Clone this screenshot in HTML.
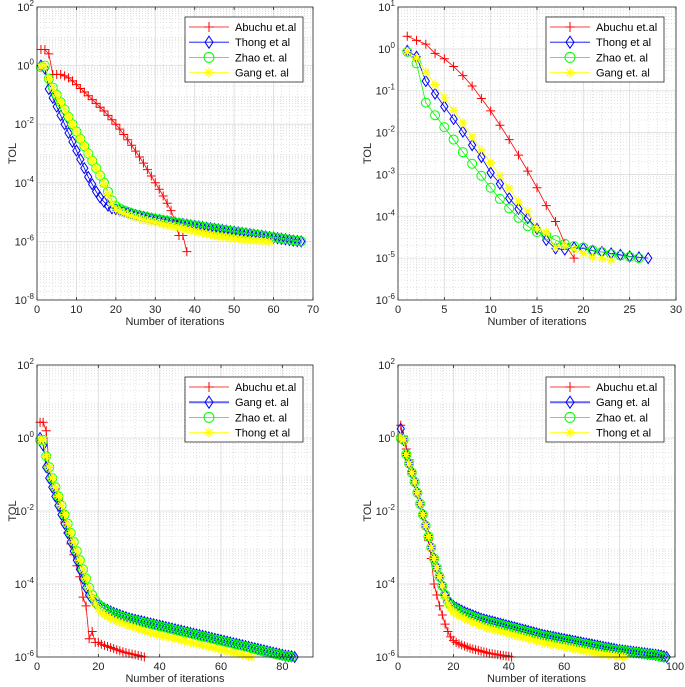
<!DOCTYPE html>
<html><head><meta charset="utf-8"><style>
html,body{margin:0;padding:0;background:#fff;}
svg{display:block;font-family:"Liberation Sans",Arial,sans-serif;}
</style></head><body>
<svg id="fig" width="685" height="687" viewBox="0 0 685 687" xmlns="http://www.w3.org/2000/svg"></svg>
<script>
// ===== Panel A (top-left) data: log10(TOL) =====
const aAbuchu = [0.55,0.55,0.4,-0.3,-0.3,-0.3,-0.35,-0.42,-0.52,-0.65,-0.78,-0.9,-1.03,-1.16,-1.29,-1.42,-1.55,-1.7,-1.85,-2.0,-2.17,-2.35,-2.53,-2.72,-2.92,-3.12,-3.33,-3.55,-3.77,-4.0,-4.22,-4.45,-4.7,-4.95,-5.3,-5.8,-5.8,-6.35];
const aThong = [0,-0.1,-0.8,-1.1,-1.4,-1.7,-2.0,-2.3,-2.6,-2.9,-3.2,-3.5,-3.8,-4.05,-4.3,-4.5,-4.65,-4.78,-4.87,-4.9,-4.94,-4.98,-5.02,-5.06,-5.1,-5.13,-5.16,-5.19,-5.22,-5.25,-5.27,-5.3,-5.32,-5.34,-5.37,-5.39,-5.41,-5.43,-5.45,-5.47,-5.49,-5.51,-5.53,-5.55,-5.57,-5.59,-5.61,-5.63,-5.65,-5.67,-5.69,-5.71,-5.73,-5.75,-5.77,-5.79,-5.81,-5.83,-5.85,-5.87,-5.89,-5.91,-5.93,-5.95,-5.97,-5.99,-6.0];
const aZhao = [-0.05,0,-0.45,-0.75,-1.0,-1.25,-1.5,-1.75,-2.0,-2.25,-2.5,-2.75,-3.0,-3.25,-3.5,-3.75,-4.0,-4.3,-4.6,-4.8,-4.88,-4.94,-4.99,-5.04,-5.08,-5.11,-5.14,-5.17,-5.2,-5.23,-5.25,-5.28,-5.3,-5.33,-5.35,-5.37,-5.4,-5.42,-5.44,-5.46,-5.48,-5.5,-5.52,-5.54,-5.56,-5.58,-5.6,-5.62,-5.64,-5.66,-5.68,-5.7,-5.72,-5.74,-5.76,-5.78,-5.8,-5.82,-5.84,-5.86,-5.88,-5.9,-5.92,-5.94,-5.96,-5.98,-6.0];
const aGang = [-0.05,0,-0.45,-0.75,-1.0,-1.25,-1.5,-1.75,-2.0,-2.25,-2.5,-2.75,-3.0,-3.25,-3.5,-3.75,-4.05,-4.4,-4.7,-4.9,-4.98,-5.04,-5.09,-5.14,-5.18,-5.22,-5.26,-5.29,-5.32,-5.35,-5.38,-5.41,-5.44,-5.47,-5.5,-5.53,-5.56,-5.59,-5.62,-5.65,-5.68,-5.71,-5.74,-5.77,-5.8,-5.82,-5.84,-5.86,-5.88,-5.9,-5.92,-5.94,-5.95,-5.96,-5.97,-5.98,-5.99,-6.0,-6.02];
// ===== Panel B (top-right) data: TOL =====
const bAbuchu = [2,1.6,1.3,0.78,0.58,0.38,0.23,0.13,0.065,0.033,0.015,0.0068,0.0029,0.0012,0.00048,0.00018,7.5e-5,2.2e-5,1e-5];
const bThong = [0.9,0.65,0.17,0.085,0.042,0.021,0.0105,0.005,0.0026,0.0011,0.0006,0.00027,0.00015,9e-5,5e-5,2.7e-5,1.7e-5,1.6e-5,1.8e-5,1.7e-5,1.5e-5,1.4e-5,1.3e-5,1.2e-5,1.1e-5,1.05e-5,1e-5];
const bZhao = [0.85,0.45,0.052,0.026,0.0135,0.0068,0.0034,0.0018,0.00093,0.00048,0.00026,0.000155,9.2e-5,5.8e-5,4.2e-5,3.5e-5,2.7e-5,2.2e-5,1.95e-5,1.8e-5,1.55e-5,1.4e-5,1.25e-5,1.15e-5,1.08e-5,1e-5];
const bGang = [0.85,0.6,0.28,0.14,0.068,0.034,0.017,0.0078,0.0038,0.0019,0.00094,0.00047,0.00022,0.00013,5e-5,4.2e-5,1.8e-5,2e-5,1.6e-5,1.3e-5,1.05e-5,1e-5,9e-6];
// ===== Panel C (bottom-left) data: log10(TOL) =====
const cAbuchu = [0.43,0.43,0.2,-0.8,-1.1,-1.4,-1.7,-2.0,-2.3,-2.6,-2.9,-3.2,-3.5,-3.8,-4.36,-4.6,-5.5,-5.3,-5.6,-5.6,-5.65,-5.68,-5.71,-5.74,-5.77,-5.8,-5.83,-5.86,-5.88,-5.9,-5.92,-5.94,-5.96,-5.98,-6.0];
const cGang = [0,-0.2,-0.8,-1.1,-1.35,-1.6,-1.85,-2.1,-2.35,-2.6,-2.85,-3.1,-3.35,-3.6,-3.85,-4.1,-4.3,-4.42,-4.52,-4.58,-4.62,-4.67,-4.71,-4.75,-4.79,-4.82,-4.85,-4.88,-4.91,-4.94,-4.96,-4.98,-5.0,-5.02,-5.04,-5.06,-5.08,-5.1,-5.12,-5.14,-5.16,-5.18,-5.2,-5.22,-5.24,-5.26,-5.28,-5.3,-5.32,-5.34,-5.36,-5.38,-5.4,-5.42,-5.44,-5.46,-5.48,-5.5,-5.52,-5.54,-5.56,-5.58,-5.6,-5.62,-5.64,-5.66,-5.68,-5.7,-5.72,-5.74,-5.76,-5.78,-5.8,-5.82,-5.84,-5.86,-5.88,-5.9,-5.92,-5.94,-5.96,-5.97,-5.98,-6.0];
const cZhao = [-0.05,-0.05,-0.5,-0.8,-1.1,-1.35,-1.6,-1.85,-2.1,-2.35,-2.6,-2.85,-3.1,-3.35,-3.6,-3.85,-4.1,-4.3,-4.45,-4.55,-4.62,-4.68,-4.73,-4.77,-4.81,-4.84,-4.87,-4.9,-4.93,-4.96,-4.98,-5.0,-5.02,-5.04,-5.06,-5.08,-5.1,-5.12,-5.14,-5.16,-5.18,-5.2,-5.22,-5.24,-5.26,-5.28,-5.3,-5.32,-5.34,-5.36,-5.38,-5.4,-5.42,-5.44,-5.46,-5.48,-5.5,-5.52,-5.54,-5.56,-5.58,-5.6,-5.62,-5.64,-5.66,-5.68,-5.7,-5.72,-5.74,-5.76,-5.78,-5.8,-5.82,-5.84,-5.86,-5.88,-5.9,-5.92,-5.94,-5.96,-5.97,-5.98,-6.0];
const cThong = [-0.05,-0.05,-0.5,-0.8,-1.1,-1.35,-1.6,-1.85,-2.1,-2.35,-2.6,-2.85,-3.1,-3.35,-3.6,-3.85,-4.1,-4.35,-4.55,-4.7,-4.78,-4.84,-4.89,-4.94,-4.98,-5.02,-5.05,-5.08,-5.11,-5.14,-5.17,-5.2,-5.23,-5.26,-5.29,-5.32,-5.34,-5.36,-5.38,-5.4,-5.42,-5.44,-5.46,-5.48,-5.5,-5.52,-5.54,-5.56,-5.58,-5.6,-5.62,-5.64,-5.66,-5.68,-5.7,-5.72,-5.74,-5.76,-5.78,-5.8,-5.82,-5.84,-5.86,-5.88,-5.9,-5.92,-5.94,-5.96,-5.98,-6.0];
// ===== Panel D (bottom-right) data: log10(TOL) =====
const dAbuchu = [0.35,0.05,-0.3,-0.6,-0.9,-1.2,-1.5,-1.8,-2.1,-2.4,-2.8,-3.3,-4.0,-4.3,-4.6,-4.85,-5.1,-5.3,-5.45,-5.55,-5.6,-5.64,-5.67,-5.7,-5.73,-5.76,-5.78,-5.8,-5.82,-5.84,-5.86,-5.88,-5.9,-5.91,-5.92,-5.94,-5.95,-5.96,-5.97,-5.98,-6.0];
const dGang = [0.25,-0.05,-0.45,-0.7,-0.95,-1.2,-1.5,-1.8,-2.1,-2.4,-2.7,-3.0,-3.3,-3.55,-3.8,-4.05,-4.3,-4.45,-4.55,-4.6,-4.65,-4.69,-4.73,-4.77,-4.8,-4.83,-4.86,-4.89,-4.92,-4.95,-4.97,-4.99,-5.01,-5.03,-5.05,-5.07,-5.09,-5.11,-5.13,-5.15,-5.17,-5.19,-5.21,-5.23,-5.25,-5.27,-5.29,-5.31,-5.33,-5.35,-5.37,-5.39,-5.41,-5.42,-5.44,-5.45,-5.47,-5.48,-5.5,-5.51,-5.53,-5.54,-5.56,-5.57,-5.59,-5.6,-5.62,-5.63,-5.65,-5.66,-5.68,-5.69,-5.71,-5.72,-5.74,-5.75,-5.77,-5.78,-5.8,-5.81,-5.82,-5.83,-5.84,-5.85,-5.86,-5.87,-5.88,-5.89,-5.9,-5.91,-5.92,-5.93,-5.94,-5.95,-5.96,-5.98,-6.0];
const dZhao = [0,-0.05,-0.45,-0.7,-0.95,-1.2,-1.5,-1.8,-2.1,-2.4,-2.7,-3.0,-3.3,-3.55,-3.8,-4.05,-4.3,-4.47,-4.58,-4.64,-4.69,-4.73,-4.77,-4.81,-4.84,-4.87,-4.9,-4.93,-4.96,-4.98,-5.0,-5.02,-5.04,-5.06,-5.08,-5.1,-5.12,-5.14,-5.16,-5.18,-5.2,-5.22,-5.24,-5.26,-5.28,-5.3,-5.32,-5.34,-5.36,-5.38,-5.4,-5.42,-5.43,-5.45,-5.46,-5.48,-5.49,-5.51,-5.52,-5.54,-5.55,-5.57,-5.58,-5.6,-5.61,-5.63,-5.64,-5.66,-5.67,-5.69,-5.7,-5.72,-5.73,-5.75,-5.76,-5.78,-5.79,-5.8,-5.81,-5.82,-5.83,-5.84,-5.85,-5.86,-5.87,-5.88,-5.89,-5.9,-5.91,-5.92,-5.93,-5.94,-5.95,-5.97,-6.0,-6.01];
const dThong = [0,-0.05,-0.45,-0.7,-0.95,-1.2,-1.5,-1.8,-2.1,-2.4,-2.7,-3.0,-3.3,-3.55,-3.8,-4.05,-4.35,-4.55,-4.68,-4.76,-4.82,-4.87,-4.91,-4.95,-4.99,-5.02,-5.05,-5.08,-5.11,-5.14,-5.17,-5.2,-5.22,-5.24,-5.26,-5.28,-5.3,-5.32,-5.34,-5.36,-5.38,-5.4,-5.42,-5.44,-5.46,-5.48,-5.5,-5.52,-5.54,-5.56,-5.58,-5.6,-5.62,-5.63,-5.65,-5.66,-5.68,-5.69,-5.71,-5.72,-5.74,-5.75,-5.77,-5.78,-5.8,-5.81,-5.83,-5.84,-5.86,-5.87,-5.89,-5.9,-5.91,-5.92,-5.93,-5.94,-5.95,-5.96,-5.97,-5.98,-5.99,-6.0];
// tick labels
const aXTicks = [0,10,20,30,40,50,60,70];
const bXTicks = [0,5,10,15,20,25,30];
const cXTicks = [0,20,40,60,80];
const dXTicks = [0,20,40,60,80,100];

const NS = "http://www.w3.org/2000/svg";
const svg = document.getElementById('fig');
function mk(tag, attrs, parent){const e=document.createElementNS(NS,tag);for(const k in attrs)e.setAttribute(k,attrs[k]);(parent||svg).appendChild(e);return e;}
const COL={red:'#ff0000',blue:'#0000ff',green:'#00ff00',yellow:'#ffff00'};

function marker(g,type,color,x,y,s){
  let e;
  if(type==='plus'){e=mk('path',{d:`M${x-s} ${y}H${x+s}M${x} ${y-s}V${y+s}`,stroke:color,'stroke-width':1,fill:'none'},g);}
  else if(type==='diamond'){e=mk('path',{d:`M${x} ${y-s*1.2}L${x+s*0.8} ${y}L${x} ${y+s*1.2}L${x-s*0.8} ${y}Z`,stroke:color,'stroke-width':1,fill:'none'},g);}
  else if(type==='circle'){e=mk('circle',{cx:x,cy:y,r:s,stroke:color,'stroke-width':1,fill:'none'},g);}
  else {const d=s*0.7;e=mk('path',{d:`M${x-s} ${y}H${x+s}M${x} ${y-s}V${y+s}M${x-d} ${y-d}L${x+d} ${y+d}M${x-d} ${y+d}L${x+d} ${y-d}`,stroke:color,'stroke-width':1.2,fill:'none'},g);}
  
  
}

function panel(p){
  const g=mk('g',{});
  
  
  const {L,R,T,B,xmin,xmax,ymin,ymax}=p;
  const sx=v=>L+(v-xmin)/(xmax-xmin)*(R-L);
  const sy=lv=>B-(lv-ymin)/(ymax-ymin)*(B-T);
  mk('rect',{x:L,y:T,width:R-L,height:B-T,fill:'#fff'},g);
  // minor y grid
  for(let e=ymin;e<ymax;e++){for(let m=2;m<=9;m++){const y=sy(e+Math.log10(m));mk('line',{x1:L,x2:R,y1:y,y2:y,stroke:'#d0d0d0','stroke-width':0.6,'stroke-dasharray':'1,2'},g);}}
  // minor x grid
  const step=p.xt[1]-p.xt[0], minor=step/ (step%5===0&&step>=10?5:5);
  for(let v=xmin;v<=xmax+1e-9;v+=minor){const x=sx(v);mk('line',{x1:x,x2:x,y1:T,y2:B,stroke:'#d0d0d0','stroke-width':0.6,'stroke-dasharray':'1,2'},g);}
  // major grid
  for(let e=ymin;e<=ymax;e+=p.ystep){const y=sy(e);mk('line',{x1:L,x2:R,y1:y,y2:y,stroke:'#dcdcdc','stroke-width':0.8},g);}
  p.xt.forEach(v=>{const x=sx(v);mk('line',{x1:x,x2:x,y1:T,y2:B,stroke:'#dcdcdc','stroke-width':0.8},g);});
  // series
  p.series.forEach(s=>{
    const sg=mk('g',{},g);
    
    
    const pts=s.data.map((v,i)=>[sx(i+1),sy(p.isLog?v:Math.log10(v))]);
    mk('polyline',{points:pts.map(q=>q.join(',')).join(' '),fill:'none',stroke:COL[s.color],'stroke-width':0.8},sg);
    pts.forEach(q=>marker(sg,s.marker,COL[s.color],q[0],q[1],p.ms));
  });
  // box
  mk('rect',{x:L,y:T,width:R-L,height:B-T,fill:'none',stroke:'#262626','stroke-width':0.8},g);
  // ticks & labels
  p.xt.forEach(v=>{const x=sx(v);
    mk('line',{x1:x,x2:x,y1:B,y2:B-3,stroke:'#262626','stroke-width':0.8},g);
    mk('line',{x1:x,x2:x,y1:T,y2:T+3,stroke:'#262626','stroke-width':0.8},g);
    const t=mk('text',{x:x,y:B+13,'font-size':11,'text-anchor':'middle',fill:'#262626'},g);t.textContent=v;
    
    
  });
  for(let e=ymin;e<=ymax;e+=p.ystep){const y=sy(e);
    const t=mk('text',{x:L-3,y:y+4,'font-size':11,'text-anchor':'end',fill:'#262626'},g);
    
    
    const b=mk('tspan',{},t);b.textContent='10';
    const sp=mk('tspan',{dy:-5,'font-size':8},t);sp.textContent=String(e).replace('-','-');
  }
  const xl=mk('text',{x:(L+R)/2,y:B+25,'font-size':11,'text-anchor':'middle',fill:'#262626'},g);xl.textContent='Number of iterations';
  
  
  const yx=p.ylx, yy=(T+B)/2;
  const yl=mk('text',{x:yx,y:yy,'font-size':11,'text-anchor':'middle',fill:'#262626',transform:`rotate(-90 ${yx} ${yy})`},g);yl.textContent='TOL';
  
  
  // legend
  const lg=mk('g',{},g);
  
  
  mk('rect',{x:p.lx,y:p.ly,width:118,height:65,fill:'#fff',stroke:'#262626','stroke-width':0.8},lg);
  p.series.forEach((s,i)=>{const y=p.ly+10+i*15.2;
    const eg=mk('g',{},lg);
    
    
    mk('line',{x1:p.lx+4,x2:p.lx+44,y1:y,y2:y,stroke:COL[s.color],'stroke-width':s.thick?2:0.8,'stroke-opacity':s.thick?0.6:1},eg);
    marker(eg,s.marker,COL[s.color],p.lx+24,y,5);
    const t=mk('text',{x:p.lx+50,y:y+4,'font-size':11,fill:'#000'},eg);t.textContent=s.label;
  });
}

panel({name:'chart-top-left',L:37,R:313,T:7,B:300,xmin:0,xmax:70,ymin:-8,ymax:2,ystep:2,isLog:true,xt:aXTicks,ylx:16,lx:185,ly:17,ms:4.5,
  series:[{name:'series-abuchu',label:'Abuchu et.al',data:aAbuchu,color:'red',marker:'plus'},
          {name:'series-gang',label:'Gang et. al',data:aGang,color:'yellow',marker:'star'},
          {name:'series-thong',label:'Thong et al',data:aThong,color:'blue',marker:'diamond'},
          {name:'series-zhao',label:'Zhao et. al',data:aZhao,color:'green',marker:'circle'}].sort((a,b)=>['Abuchu et.al','Thong et al','Zhao et. al','Gang et. al'].indexOf(a.label)-['Abuchu et.al','Thong et al','Zhao et. al','Gang et. al'].indexOf(b.label))});
panel({name:'chart-top-right',L:398,R:676,T:7,B:300,xmin:0,xmax:30,ymin:-6,ymax:1,ystep:1,isLog:false,xt:bXTicks,ylx:371,lx:546,ly:17,ms:4.5,
  series:[{name:'series-abuchu',label:'Abuchu et.al',data:bAbuchu,color:'red',marker:'plus'},
          {name:'series-thong',label:'Thong et al',data:bThong,color:'blue',marker:'diamond'},
          {name:'series-zhao',label:'Zhao et. al',data:bZhao,color:'green',marker:'circle'},
          {name:'series-gang',label:'Gang et. al',data:bGang,color:'yellow',marker:'star'}]});
panel({name:'chart-bottom-left',L:37,R:313,T:365,B:657,xmin:0,xmax:90,ymin:-6,ymax:2,ystep:2,isLog:true,xt:cXTicks,ylx:16,lx:185,ly:377,ms:4.5,
  series:[{name:'series-abuchu',label:'Abuchu et.al',data:cAbuchu,color:'red',marker:'plus'},
          {name:'series-gang',label:'Gang et. al',data:cGang,color:'blue',marker:'diamond',thick:true},
          {name:'series-zhao',label:'Zhao et. al',data:cZhao,color:'green',marker:'circle'},
          {name:'series-thong',label:'Thong et al',data:cThong,color:'yellow',marker:'star'}]});
panel({name:'chart-bottom-right',L:398,R:675,T:365,B:657,xmin:0,xmax:100,ymin:-6,ymax:2,ystep:2,isLog:true,xt:dXTicks,ylx:371,lx:546,ly:377,ms:4.5,
  series:[{name:'series-abuchu',label:'Abuchu et.al',data:dAbuchu,color:'red',marker:'plus'},
          {name:'series-gang',label:'Gang et. al',data:dGang,color:'blue',marker:'diamond',thick:true},
          {name:'series-zhao',label:'Zhao et. al',data:dZhao,color:'green',marker:'circle'},
          {name:'series-thong',label:'Thong et al',data:dThong,color:'yellow',marker:'star'}]});
</script>
</body></html>
